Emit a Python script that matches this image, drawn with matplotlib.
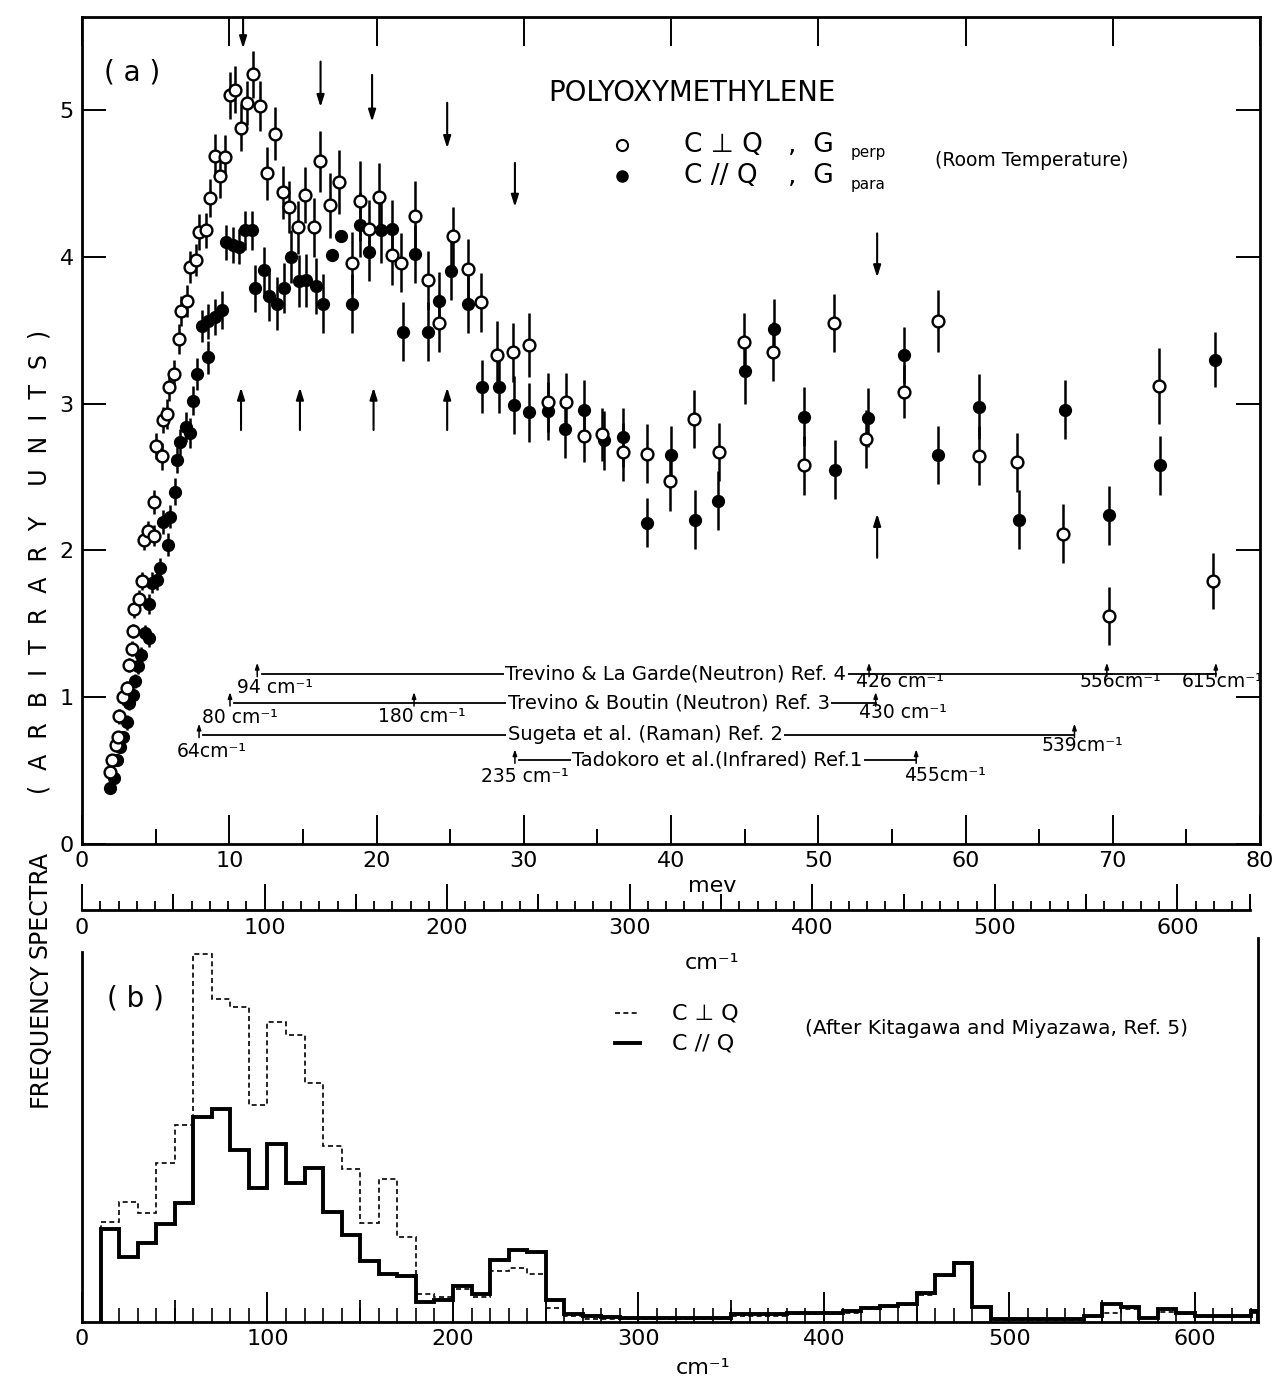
import numpy as np
import matplotlib.pyplot as plt
from matplotlib.ticker import MultipleLocator
from matplotlib.lines import Line2D

# ---- panel (a): frequency spectra, meV ----
# C perp Q (open circles)
perp_E = [1.90, 2.06, 2.29, 2.42, 2.51, 2.81, 3.03, 3.19, 3.37, 3.49, 3.55, 3.87, 4.05, 4.21,
          4.51, 4.89, 4.89, 5.03, 5.41, 5.52, 5.80, 5.93, 6.27, 6.61, 6.70, 7.16, 7.36, 7.72,
          7.97, 8.42, 8.72, 9.01, 9.38, 9.74, 10.03, 10.42, 10.80, 11.21, 11.60, 12.09, 12.57,
          13.09, 13.68, 14.08, 14.70, 15.17, 15.76, 16.17, 16.83, 17.44, 18.32, 18.89, 19.52,
          20.15, 21.04, 21.67, 22.62, 23.48, 24.27, 25.18, 26.18, 27.08, 28.21, 29.30, 30.37,
          31.64, 32.86, 34.10, 35.33, 36.77, 38.36, 39.95, 41.53, 43.27, 44.97, 46.92, 49.00,
          51.09, 53.26, 55.84, 58.13, 60.89, 63.50, 66.62, 69.77, 73.17, 76.79]
perp_I = [0.49, 0.57, 0.675, 0.73, 0.87, 1.00, 1.06, 1.22, 1.33, 1.45, 1.60, 1.67, 1.79, 2.07,
          2.13, 2.10, 2.33, 2.71, 2.64, 2.89, 2.93, 3.115, 3.20, 3.44, 3.63, 3.70, 3.93, 3.98,
          4.17, 4.18, 4.40, 4.69, 4.55, 4.68, 5.10, 5.14, 4.88, 5.05, 5.245, 5.03, 4.57,
          4.84, 4.44, 4.34, 4.20, 4.42, 4.20, 4.65, 4.35, 4.51, 3.96, 4.38, 4.19,
          4.41, 4.01, 3.96, 4.28, 3.84, 3.55, 4.14, 3.92, 3.69, 3.33, 3.35, 3.40,
          3.01, 3.01, 2.78, 2.79, 2.67, 2.66, 2.47, 2.895, 2.67, 3.42, 3.355, 2.58,
          3.55, 2.76, 3.08, 3.565, 2.645, 2.60, 2.115, 1.553, 3.12, 1.79]
perp_err = [0.04, 0.04, 0.04, 0.04, 0.05, 0.05, 0.05, 0.05, 0.05, 0.05, 0.06, 0.06, 0.06, 0.07,
            0.07, 0.07, 0.08, 0.09, 0.09, 0.09, 0.10, 0.10, 0.10, 0.10, 0.10, 0.11, 0.11, 0.11,
            0.12, 0.12, 0.13, 0.15, 0.15, 0.15, 0.16, 0.16, 0.16, 0.15, 0.16, 0.17, 0.18,
            0.18, 0.18, 0.18, 0.18, 0.19, 0.20, 0.21, 0.22, 0.22, 0.21, 0.27, 0.20,
            0.23, 0.20, 0.20, 0.24, 0.20, 0.20, 0.20, 0.20, 0.20, 0.23, 0.20, 0.22,
            0.20, 0.20, 0.18, 0.18, 0.20, 0.20, 0.20, 0.20, 0.20, 0.20, 0.20, 0.20,
            0.20, 0.20, 0.18, 0.21, 0.20, 0.20, 0.20, 0.20, 0.26, 0.19]

# C // Q (filled circles)
para_E = [1.90, 2.17, 2.40, 2.58, 2.76, 3.03, 3.19, 3.44, 3.60, 3.83, 4.01, 4.28, 4.55, 4.55,
          4.73, 5.12, 5.30, 5.48, 5.87, 5.98, 6.32, 6.43, 6.66, 7.07, 7.34, 7.56, 7.83, 8.13,
          8.54, 8.58, 9.04, 9.49, 9.76, 10.28, 10.69, 11.07, 11.53, 11.75, 12.39, 12.73, 13.22,
          13.74, 14.18, 14.72, 15.22, 15.88, 16.40, 16.98, 17.60, 18.32, 18.89, 19.52, 20.31,
          21.04, 21.79, 22.62, 23.53, 24.27, 25.07, 26.18, 27.17, 28.33, 29.37, 30.37, 31.64,
          32.81, 34.12, 35.42, 36.73, 38.40, 39.97, 41.60, 43.18, 45.04, 46.97, 49.00, 51.16,
          53.35, 55.84, 58.13, 60.89, 63.65, 66.73, 69.77, 73.23, 76.97]
para_I = [0.38, 0.45, 0.57, 0.66, 0.73, 0.83, 0.96, 1.015, 1.11, 1.21, 1.29, 1.435, 1.40, 1.635,
          1.78, 1.80, 1.88, 2.195, 2.04, 2.23, 2.40, 2.615, 2.74, 2.84, 2.80, 3.02, 3.20, 3.53,
          3.315, 3.56, 3.59, 3.64, 4.10, 4.08, 4.07, 4.18, 4.18, 3.785, 3.91, 3.73, 3.68,
          3.79, 4.00, 3.835, 3.84, 3.80, 3.68, 4.01, 4.14, 3.68, 4.22, 4.035, 4.18,
          4.19, 3.49, 4.02, 3.49, 3.70, 3.905, 3.68, 3.115, 3.115, 2.99, 2.94, 2.95,
          2.83, 2.96, 2.75, 2.77, 2.19, 2.65, 2.21, 2.34, 3.22, 3.51, 2.91, 2.55,
          2.905, 3.33, 2.65, 2.98, 2.21, 2.96, 2.24, 2.58, 3.30]
para_err = [0.03, 0.03, 0.04, 0.04, 0.04, 0.05, 0.05, 0.05, 0.05, 0.05, 0.05, 0.06, 0.06, 0.07,
            0.07, 0.07, 0.07, 0.08, 0.08, 0.08, 0.09, 0.09, 0.09, 0.10, 0.10, 0.10, 0.11, 0.11,
            0.11, 0.12, 0.12, 0.13, 0.12, 0.12, 0.12, 0.13, 0.13, 0.16, 0.16, 0.17, 0.18,
            0.17, 0.18, 0.18, 0.18, 0.19, 0.20, 0.00, 0.00, 0.20, 0.22, 0.20, 0.22,
            0.20, 0.20, 0.20, 0.20, 0.20, 0.20, 0.20, 0.18, 0.18, 0.20, 0.20, 0.20,
            0.20, 0.20, 0.20, 0.20, 0.17, 0.20, 0.20, 0.20, 0.22, 0.20, 0.20, 0.20,
            0.20, 0.19, 0.20, 0.22, 0.20, 0.20, 0.20, 0.20, 0.19]

# peak arrows (meV)
down_E = [10.94, 16.2, 19.7, 24.8, 29.4, 54.0]
down_top = [5.63, 5.33, 5.24, 5.05, 4.64, 4.16]
down_tip = [5.42, 5.02, 4.92, 4.74, 4.34, 3.86]
up_E = [10.8, 14.8, 19.8, 24.8, 54.0]
up_tip = [3.11, 3.11, 3.11, 3.11, 2.25]
up_tail = [2.82, 2.82, 2.82, 2.82, 1.95]

# optical / neutron references
ref_text = ["Trevino & La Garde(Neutron) Ref. 4", "Trevino & Boutin (Neutron) Ref. 3",
            "Sugeta et al. (Raman) Ref. 2", "Tadokoro et al.(Infrared) Ref.1"]
ref_level = [1.16, 0.96, 0.745, 0.57]
ref_text_E = [28.75, 28.9, 28.9, 33.3]
ref_mark_E = [[11.9, 53.45, 69.6, 77.0], [10.05, 22.55, 53.9], [7.95, 67.4], [29.4, 56.65]]
ref_mark_lab = [["94 cm⁻¹", "426 cm⁻¹", "556cm⁻¹", "615cm⁻¹"],
                ["80 cm⁻¹", "180 cm⁻¹", "430 cm⁻¹"],
                ["64cm⁻¹", "539cm⁻¹"],
                ["235 cm⁻¹", "455cm⁻¹"]]
ref_lab_E = [[13.11, 55.57, 70.52, 77.45], [10.73, 23.10, 55.77], [8.83, 67.93], [30.10, 58.63]]
ref_lab_I = [[1.063, 1.104, 1.110, 1.110], [0.865, 0.872, 0.899], [0.627, 0.674], [0.463, 0.470]]

# ---- panel (b): histogram, cm^-1 (10 cm^-1 bins from 10) ----
bin_edges = list(range(10, 631, 10)) + [634]
para_hist = [93.3, 65.3, 79.3, 97.7, 118.7, 205.3, 213.3, 172, 134.3, 177.7, 138.7, 154.3, 110,
             86.7, 61, 47.7, 45.7, 20, 22, 36, 28.5, 62, 72, 70, 21.8, 7.7, 6, 5.3, 4.5, 4.5,
             4.5, 4.5, 4.5, 4.5, 8.4, 8.4, 8.4, 9.5, 9.5, 9.5, 11, 14, 16.5, 18.2, 28.8, 47,
             58.6, 14.7, 3, 3, 3, 3, 3, 6, 18.2, 14.7, 4.2, 13, 9.5, 6, 6, 6, 11]
perp_hist = [100, 120, 108.7, 159.3, 196.7, 367.7, 323.3, 315.3, 216.7, 300, 286.7, 238.7, 176,
             153.3, 99.3, 143.3, 85, 27.7, 25, 33.3, 25, 50.7, 54.3, 47.7, 14, 6, 3.5, 3, 3, 3,
             3, 3, 3, 3, 6.5, 6.5, 6.5, 8, 8, 8, 9.5, 12.6, 15.4, 17, 27, 45.6,
             60.4, 15.4, 2, 2, 2, 2, 2, 5, 9.5, 12.6, 4, 10.5, 8.4, 5, 5, 5, 9]

MEV_TO_CM = 8.0655

W, H = 1277, 1384
plt.rcParams['font.family'] = ['DejaVu Sans']
fig = plt.figure(figsize=(W / 100, H / 100), dpi=100)


def box(x0, y0, x1, y1):
    return [x0 / W, 1 - y1 / H, (x1 - x0) / W, (y1 - y0) / H]


def ftext(x, y, s, **kw):
    kw.setdefault('ha', 'center')
    kw.setdefault('va', 'center')
    fig.text(x / W, 1 - y / H, s, **kw)


LW = 2.0

# ---------------- panel (a) ----------------
ax = fig.add_axes(box(82, 17, 1260, 844))
ax.set_xlim(0, 80)
ax.set_ylim(0, 5.634)
for sp in ax.spines.values():
    sp.set_linewidth(LW)
ax.xaxis.set_major_locator(MultipleLocator(10))
ax.xaxis.set_minor_locator(MultipleLocator(5))
ax.yaxis.set_major_locator(MultipleLocator(1))
ax.tick_params(axis='x', which='major', direction='in', length=21, width=1.4,
               top=True, labelsize=16, pad=5)
ax.tick_params(axis='x', which='minor', direction='in', length=11, width=1.4, top=False)
ax.tick_params(axis='y', which='major', direction='in', length=17, width=1.4,
               right=True, labelsize=16, pad=6)

ax.errorbar(para_E, para_I, yerr=para_err, fmt='o', ms=8.5, mfc='black', mec='black',
            ecolor='black', elinewidth=1.8, capsize=0, zorder=3)
ax.errorbar(perp_E, perp_I, yerr=perp_err, fmt='o', ms=8.5, mfc='white', mec='black',
            mew=1.7, ecolor='black', elinewidth=1.8, capsize=0, zorder=4)

arrow_kw = dict(arrowstyle='-|>,head_width=0.22,head_length=0.7', lw=1.5, color='black',
                shrinkA=0, shrinkB=0)
for e, t0, t1 in zip(down_E, down_top, down_tip):
    ax.annotate('', xy=(e, t1), xytext=(e, t0), arrowprops=arrow_kw, annotation_clip=False)
for e, t0, t1 in zip(up_E, up_tail, up_tip):
    ax.annotate('', xy=(e, t1), xytext=(e, t0), arrowprops=arrow_kw)

small_kw = dict(arrowstyle='-|>,head_width=0.12,head_length=0.35', lw=1.1, color='black',
                shrinkA=0, shrinkB=0)
for txt, lvl, tE, marks, labs, lE, lI in zip(ref_text, ref_level, ref_text_E, ref_mark_E,
                                            ref_mark_lab, ref_lab_E, ref_lab_I):
    ax.plot([marks[0] + 0.3, max(marks)], [lvl, lvl], color='black', lw=1.3, zorder=2)
    ax.text(tE, lvl, txt, fontsize=14, ha='left', va='center', zorder=3,
            bbox=dict(facecolor='white', edgecolor='none', pad=1.0))
    for m in marks:
        ax.annotate('', xy=(m, lvl + 0.075), xytext=(m, lvl - 0.02), arrowprops=small_kw)
    for s, x, y in zip(labs, lE, lI):
        ax.text(x, y, s, fontsize=13.5, ha='center', va='center')

ftext(132, 72, '( a )', fontsize=20)
ftext(548, 93, 'POLYOXYMETHYLENE', fontsize=19.8, ha='left')
ax.plot([36.68], [4.76], 'o', ms=8, mfc='white', mec='black', mew=1.5, clip_on=False)
ax.plot([36.68], [4.55], 'o', ms=8, mfc='black', mec='black', clip_on=False)
ftext(684, 145, 'C ⊥ Q', fontsize=19, ha='left')
ftext(684, 176, 'C // Q', fontsize=19, ha='left')
ftext(788, 145, ',  G', fontsize=19, ha='left')
ftext(788, 176, ',  G', fontsize=19, ha='left')
ftext(851, 153, 'perp', fontsize=11, ha='left')
ftext(851, 184, 'para', fontsize=11, ha='left')
ftext(935, 160, '(Room Temperature)', fontsize=13.5, ha='left')
ftext(712, 886, 'mev', fontsize=16)

# ---------------- cm^-1 scale between panels ----------------
axm = fig.add_axes(box(82, 870, 1260, 909.5))
axm.set_xlim(0, 80 * MEV_TO_CM)
axm.patch.set_visible(False)
for k in ('top', 'left', 'right'):
    axm.spines[k].set_visible(False)
axm.spines['bottom'].set_linewidth(LW)
axm.spines['bottom'].set_bounds(0, 640)
axm.set_yticks([])
axm.set_xticks(range(0, 601, 100))
axm.set_xticks(range(0, 641, 10), minor=True)
axm.tick_params(axis='x', which='major', direction='in', length=19, width=1.4,
                labelsize=16, pad=6)
axm.tick_params(axis='x', which='minor', direction='in', length=6.5, width=1.3)
axm.vlines(list(range(50, 651, 100)) + [640], 0, 0.4, color='black', lw=1.4,
           transform=axm.get_xaxis_transform())
ftext(712, 963, 'cm⁻¹', fontsize=16)

# ---------------- panel (b) ----------------
axb = fig.add_axes(box(82, 938, 1258, 1322))
axb.set_xlim(0, 634)
axb.set_ylim(0, 384)
axb.spines['top'].set_visible(False)
for k in ('left', 'right', 'bottom'):
    axb.spines[k].set_linewidth(LW)
axb.spines['left'].set_bounds(0, 370)
axb.set_yticks([])
axb.xaxis.set_major_locator(MultipleLocator(100))
axb.xaxis.set_minor_locator(MultipleLocator(10))
axb.tick_params(axis='x', which='major', direction='in', length=21.5, width=1.4,
                labelsize=16, pad=5)
axb.tick_params(axis='x', which='minor', direction='in', length=10, width=1.2)
axb.vlines(range(50, 634, 100), 0, 22, color='black', lw=1.3)

axb.stairs(perp_hist, bin_edges, color='black', lw=1.2, ls=(0, (3, 2)))
axb.stairs(para_hist, bin_edges, color='black', lw=2.8)

fig.add_artist(Line2D([615 / W, 640 / W], [1 - 1013 / H] * 2, color='black', lw=1.2,
                      ls=(0, (3, 2))))
fig.add_artist(Line2D([615 / W, 640 / W], [1 - 1043 / H] * 2, color='black', lw=2.8))
ftext(672, 1013, 'C ⊥ Q', fontsize=16, ha='left')
ftext(672, 1043, 'C // Q', fontsize=16, ha='left')
ftext(805, 1028, '(After Kitagawa and Miyazawa, Ref. 5)', fontsize=14.5, ha='left')
ftext(135, 998, '( b )', fontsize=20)
ftext(703, 1368, 'cm⁻¹', fontsize=16)

# shared ordinate label
ftext(40, 1035, 'FREQUENCY', fontsize=17, rotation=90)
ftext(40, 905, 'SPECTRA', fontsize=17, rotation=90)
ftext(40, 562, '(  A  R  B  I  T  R  A  R  Y    U  N  I  T  S  )', fontsize=17, rotation=90)

fig.savefig('out.png', dpi=100)
